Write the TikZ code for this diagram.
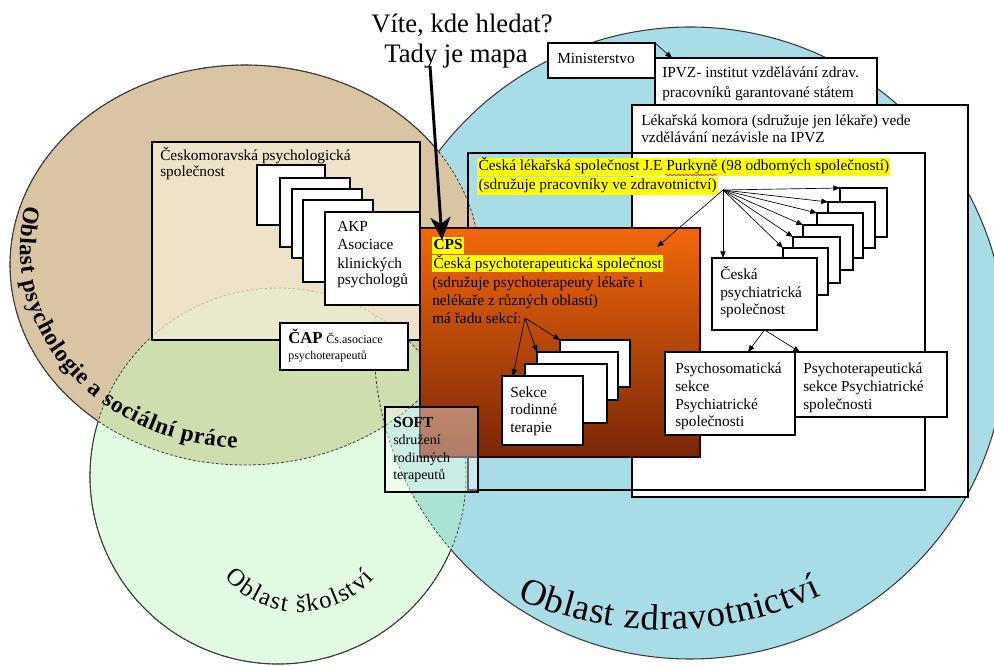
\documentclass[tikz,border=0pt]{standalone}
\usepackage{fontspec}
\setmainfont{Liberation Serif}
\usetikzlibrary{arrows.meta,decorations.text,decorations.pathmorphing,calc}
\definecolor{bluec}{RGB}{168,220,230}
\definecolor{greenc}{RGB}{226,250,226}
\definecolor{tanc}{RGB}{217,197,163}
\definecolor{olivec}{RGB}{206,222,174}
\definecolor{tealc}{RGB}{170,226,212}
\definecolor{creamc}{RGB}{247,239,218}
\definecolor{cpstop}{RGB}{242,104,10}
\definecolor{cpsbot}{RGB}{122,38,8}
\definecolor{hl}{RGB}{255,255,0}
\definecolor{edge}{RGB}{60,60,60}
\newcommand\fs{\fontsize{11.5}{14}\selectfont}
\newcommand\psyf{\bfseries\fontsize{17.5}{20}\selectfont}
\newcommand\skf{\fontsize{18.5}{22}\selectfont}
\newcommand\zdf{\fontsize{27.5}{32}\selectfont}
\newcommand\mybx[6][]{\node[bx,#1,minimum width={(#5-#3)*0.75pt},minimum height={(#6-#4)*0.75pt}] (#2) at (#3,#4) {};}
\newcommand\mytl[5][]{\node[tx,#1] (#2) at (#3,#4) {#5};}
\tikzset{
  bx/.style={draw=black, line width=0.9pt, fill=white, inner sep=0pt, outer sep=0pt, anchor=north west},
  tx/.style={anchor=base west, inner sep=0pt, font=\fs},
  hlt/.style={fill=hl, inner xsep=1pt, inner ysep=0pt, text height=9.5pt, text depth=3pt},
  arr/.style={-{Triangle[length=5pt,width=4pt]}, line width=0.5pt},
  dsh/.style={dash pattern=on 2pt off 1.5pt, line width=0.6pt, draw=edge},
  sol/.style={line width=0.8pt, draw=edge},
}
\begin{document}
\begin{tikzpicture}[x=0.75pt,y=-0.75pt]
\useasboundingbox (0,0) rectangle (994,666);
\fill[white] (0,0) rectangle (994,666);
% ---- circles
\fill[bluec] (690,343) circle[radius=316];
\fill[greenc] (278,476) circle[radius=188];
\fill[tanc] (245,265) ellipse[x radius=235, y radius=200];
\begin{scope}
  \clip (278,476) circle[radius=188];
  \fill[tealc] (690,343) circle[radius=316];
  \fill[olivec] (245,265) ellipse[x radius=235, y radius=200];
\end{scope}
\draw[dsh] (278,476) circle[radius=188];
\draw[dsh] (245,265) ellipse[x radius=235, y radius=200];
\begin{scope}
  \clip (278,476) circle[radius=188];
  \draw[dsh] (690,343) circle[radius=316];
\end{scope}
\draw[sol] ({690+316*cos(-142.8)},{343+316*sin(-142.8)}) arc[start angle=-142.8, end angle=139.2, radius=316];
\draw[sol] ({245+235*cos(128.9)},{265+200*sin(128.9)}) arc[start angle=128.9, end angle=326, x radius=235, y radius=200];
\draw[sol] ({278+188*cos(197)},{476+188*sin(197)}) arc[start angle=197, end angle=23.06, radius=188];
% ---- curved labels
\path[decorate, decoration={text along path, text align=fit to path, text={|\psyf|Oblast psychologie a sociální práce}}]
  ({245+225*cos(193)},{250+198*sin(193)}) arc[start angle=193, end angle=92, x radius=225, y radius=198];
\path[decorate, decoration={text along path, text align=fit to path, text={|\skf|Oblast školství}}]
  ({300+100*cos(139)},{512+100*sin(139)}) arc[start angle=139, end angle=42, radius=100];
\path[decorate, decoration={text along path, text align=fit to path, text={|\zdf|Oblast zdravotnictví}}]
  ({665+367*cos(113.7)},{263+367*sin(113.7)}) arc[start angle=113.7, end angle=64.8, radius=367];
% ---- psychology side
\mybx[fill=creamc, fill opacity=0.7]{cmps}{152}{142}{420}{340}
\mytl{cmpsA}{160}{161}{Českomoravská psychologická}
\mytl{cmpsB}{160}{177}{společnost}
\mybx{akpa}{257}{165}{325}{225}
\mybx{akpb}{280}{178}{350}{247}
\mybx{akpc}{292}{189}{362}{258}
\mybx{akpd}{303}{200}{373}{282}
\mybx{akp}{325}{212}{420}{305}
\mytl{akp1}{337}{232}{AKP}
\mytl{akp2}{337}{250}{Asociace}
\mytl{akp3}{337}{268}{klinických}
\mytl{akp4}{337}{285}{psychologů}
\mybx{cap}{280}{323}{408}{370}
\mytl{cap1}{288}{343}{{\bfseries\fontsize{12.5}{14}\selectfont ČAP} {\fontsize{9}{11}\selectfont Čs.asociace}}
\mytl{cap2}{288}{359}{\fontsize{9}{11}\selectfont psychoterapeutů}
% ---- health side
\mybx{ipvz}{655}{58}{877}{108}
\mytl{ipvz1}{662}{78}{IPVZ- institut vzdělávání zdrav.}
\mytl{ipvz2}{662}{98}{pracovníků garantované státem}
\mybx{minis}{548}{43}{655}{78}
\mytl{minist}{557}{64}{Ministerstvo}
\mybx{komora}{632}{105}{968}{497}
\mytl{kom1}{641}{126}{Lékařská komora (sdružuje jen lékaře) vede}
\mytl{kom2}{641}{143}{vzdělávání nezávisle na IPVZ}
\mybx[fill=none]{cls}{468}{153}{925}{490}
\mytl[hlt,text depth=4pt,text height=10pt]{cls1}{477}{171}{Česká lékařská společnost J.E Purkyně (98 odborných společností)}
\mytl[hlt,text depth=4pt,text height=10pt]{cls2}{477}{190}{(sdružuje pracovníky ve zdravotnictví)}
\draw[red, line width=0.4pt, decorate, decoration={snake, amplitude=0.7pt, segment length=3pt}] (665,175) -- (717,175);
\mybx[top color=cpstop, bottom color=cpsbot, draw=black!85!red, line width=1.3pt]{cps}{420}{228}{700}{457}
\mytl[hlt,font=\fs\bfseries]{cpsA}{432}{250}{CPS}
\mytl[hlt]{cpsB}{432}{268}{Česká psychoterapeutická společnost}
\mytl{cpsC}{432}{287}{(sdružuje psychoterapeuty lékaře i}
\mytl{cpsD}{432}{305}{nelékaře z různých oblastí)}
\mytl{cpsE}{432}{323}{má řadu sekcí:}
\mybx{c6}{840}{188}{887}{237}
\mybx{c5}{828}{202}{875}{248}
\mybx{c4}{817}{213}{863}{258}
\mybx{c3}{803}{225}{853}{270}
\mybx{c2}{793}{237}{840}{283}
\mybx{c1}{783}{248}{828}{295}
\mybx{cpsy}{712}{258}{817}{330}
\mytl{cpsy1}{720}{280}{Česká}
\mytl{cpsy2}{720}{297}{psychiatrická}
\mytl{cpsy3}{720}{314}{společnost}
\mybx{pt}{795}{352}{947}{417}
\mytl{pt1}{803}{373}{Psychoterapeutická}
\mytl{pt2}{803}{391}{sekce Psychiatrické}
\mytl{pt3}{803}{409}{společnosti}
\mybx{psm}{665}{352}{795}{435}
\mytl{psm1}{675}{373}{Psychosomatická}
\mytl{psm2}{675}{391}{sekce}
\mytl{psm3}{675}{409}{Psychiatrické}
\mytl{psm4}{675}{426}{společnosti}
\mybx{s1}{560}{340}{630}{387}
\mybx{s2}{537}{352}{618}{400}
\mybx{s3}{525}{364}{607}{423}
\mybx{sf}{502}{376}{583}{445}
\mytl{sf1}{510}{397}{Sekce}
\mytl{sf2}{510}{414}{rodinné}
\mytl{sf3}{510}{432}{terapie}
\mybx[fill opacity=0.4]{soft}{385}{407}{478}{492}
\mytl[font=\fs\bfseries]{soft1}{393}{427}{SOFT}
\mytl[font=\fontsize{10.5}{12}\selectfont]{soft2}{393}{444}{sdružení}
\mytl[font=\fontsize{10.5}{12}\selectfont]{soft3}{393}{462}{rodinných}
\mytl[font=\fontsize{10.5}{12}\selectfont]{soft4}{393}{479}{terapeutů}
% ---- title
\node[anchor=base, inner sep=0pt, font=\fontsize{20}{24}\selectfont] (t1) at (462,33) {Víte, kde hledat?};
\node[anchor=base, inner sep=0pt, font=\fontsize{20}{24}\selectfont] (t2) at (456,63) {Tady je mapa};
\coordinate (ta) at (430,66);
\draw[line width=2.2pt, -{Stealth[length=17pt,width=15pt,inset=5pt]}] (ta) -- ($(cps.north west)+(22,12)$);
% ---- connectors
\draw[arr] (minis.north east) -- ($(ipvz.north west)+(17,0)$);
\coordinate (fan) at (723,190);
\draw[arr] (fan) -- ($(cps.north east)+(-43,19)$);
\draw[arr] (fan) -- ($(cpsy.north west)+(11,0)$);
\draw[arr] (fan) -- (c1.north west);
\draw[arr] (fan) -- (c2.north west);
\draw[arr] (fan) -- (c3.north west);
\draw[arr] (fan) -- (c4.north west);
\draw[arr] (fan) -- (c5.north west);
\draw[arr] (fan) -- (c6.north west);
\draw[arr] (cpsy.south) -- ($(psm.north west)+(83,0)$);
\draw[arr] (cpsy.south) -- ($(pt.north west)+(5,0)$);
\coordinate (sek) at (525,318);
\draw[arr] (sek) -- ($(sf.north west)+(11,0)$);
\draw[arr] (sek) -- (s2.north west);
\draw[arr] (sek) -- (s1.north west);
\end{tikzpicture}
\end{document}
